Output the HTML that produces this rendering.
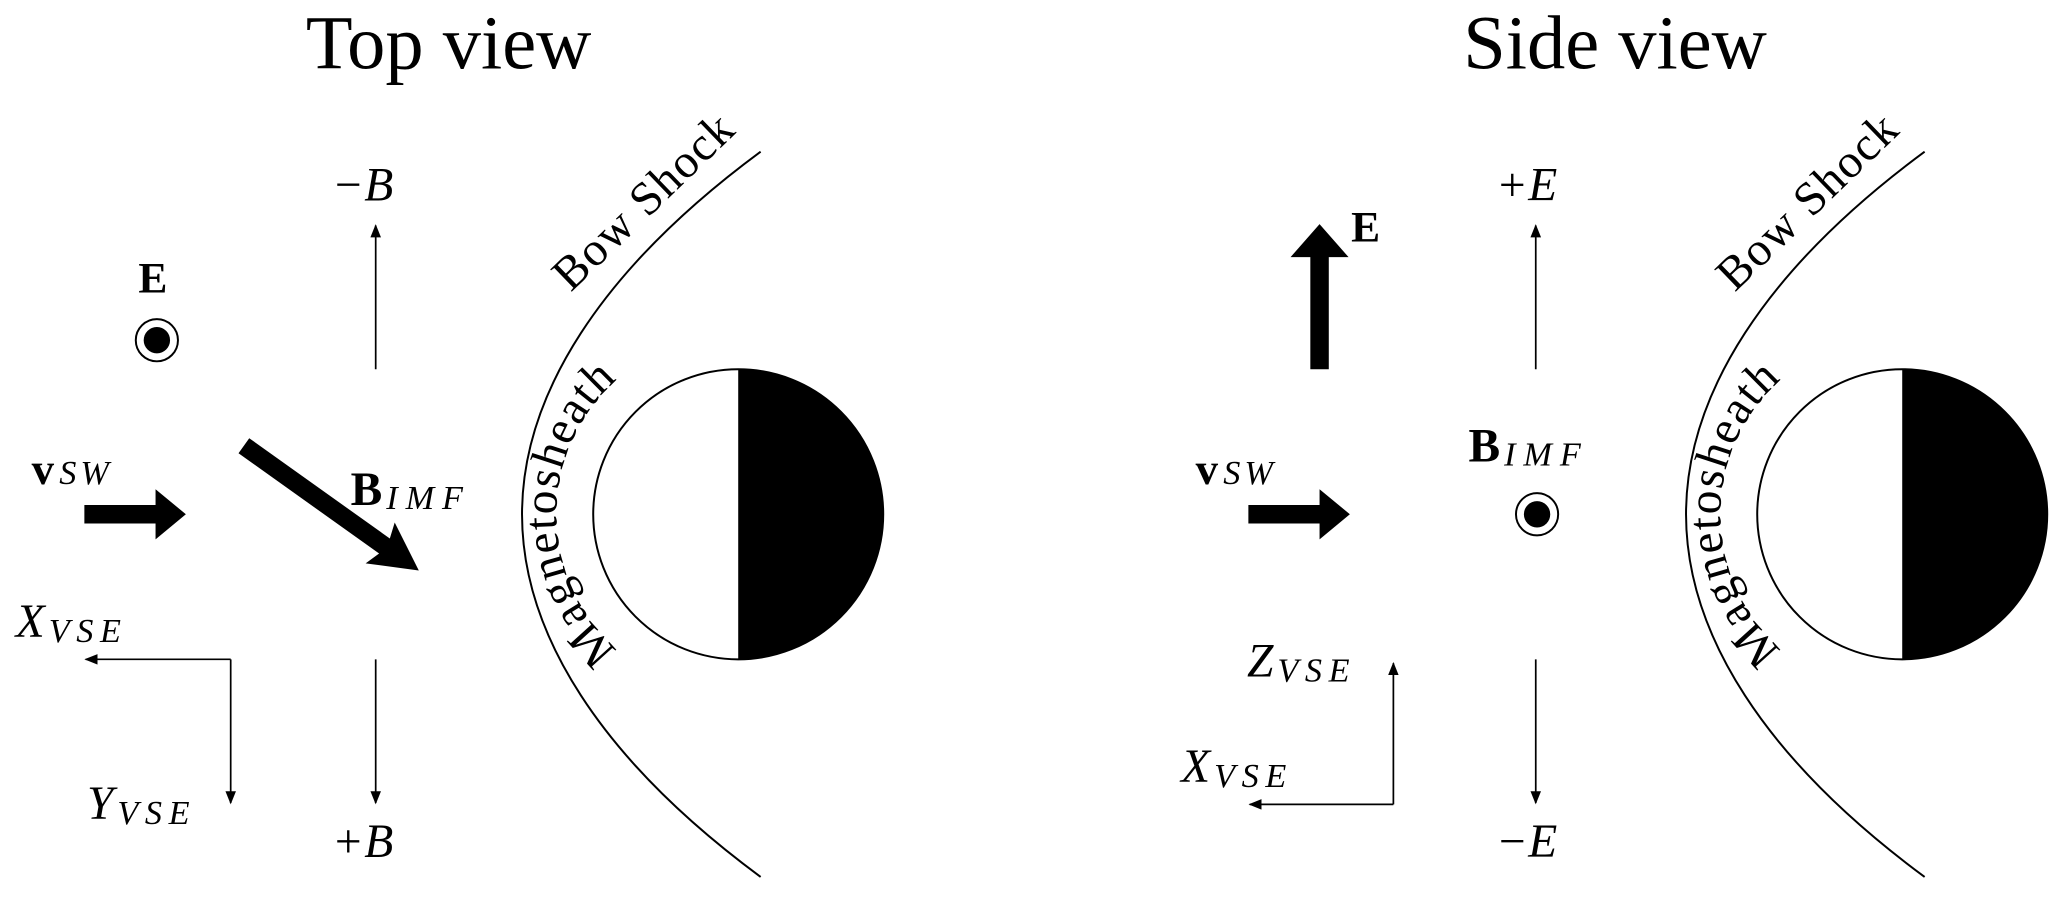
<!DOCTYPE html>
<html><head><meta charset="utf-8"><style>
html,body{margin:0;padding:0;background:#fff;}
svg{display:block;}
text{font-family:"Liberation Serif",serif;fill:#000;}
.b{font-weight:bold;}
.i{font-style:italic;}
</style></head><body>
<svg width="2067" height="898" viewBox="0 0 1568 681" preserveAspectRatio="none" xmlns="http://www.w3.org/2000/svg">
<defs>
<marker id="ah" markerWidth="10" markerHeight="8" refX="9" refY="4" orient="auto" markerUnits="userSpaceOnUse">
<path d="M0,0 L10,4 L0,8 Z" fill="#000"/>
</marker>
<path id="ms1" d="M494,510 A136,136 0 0,1 494,270" fill="none"/>
<path id="ms2" d="M1377,510 A136,136 0 0,1 1377,270" fill="none"/>
</defs>

<!-- ===== LEFT: Top view ===== -->
<text x="232" y="52" font-size="58">Top view</text>

<text x="254" y="152" font-size="36">−<tspan class="i" dx="2">B</tspan></text>
<line x1="285" y1="280" x2="285" y2="171" stroke="#000" stroke-width="1.3" marker-end="url(#ah)"/>
<line x1="285" y1="500" x2="285" y2="609" stroke="#000" stroke-width="1.3" marker-end="url(#ah)"/>
<text x="254" y="650" font-size="36">+<tspan class="i" dx="2">B</tspan></text>

<text x="105" y="222" font-size="33" class="b">E</text>
<circle cx="119" cy="258" r="16" fill="#fff" stroke="#000" stroke-width="1.5"/>
<circle cx="119" cy="258" r="10" fill="#000"/>

<text x="24" y="367" font-size="34"><tspan class="b">v</tspan><tspan class="i" font-size="26" dx="4" letter-spacing="3">SW</tspan></text>
<polygon points="64,383 118,383 118,371 141,390 118,409 118,397 64,397" fill="#000"/>

<g transform="translate(185,338) rotate(35.5)">
<polygon points="0,-7 131,-7 127,-19 163,0 127,19 131,7 0,7" fill="#000"/>
</g>
<text x="266" y="383" font-size="36"><tspan class="b">B</tspan><tspan class="i" font-size="26" dx="3" dy="3" letter-spacing="6">IMF</tspan></text>

<text x="12" y="483" font-size="36" class="i">X<tspan font-size="26" dx="3" dy="4" letter-spacing="5">VSE</tspan></text>
<line x1="175" y1="500" x2="65" y2="500" stroke="#000" stroke-width="1.3" marker-end="url(#ah)"/>
<line x1="175" y1="500" x2="175" y2="609" stroke="#000" stroke-width="1.3" marker-end="url(#ah)"/>
<text x="66" y="621" font-size="36" class="i">Y<tspan font-size="26" dx="3" dy="4" letter-spacing="5">VSE</tspan></text>

<path d="M577,115 C455,205 396,300 396,390 C396,480 455,575 577,665" fill="none" stroke="#000" stroke-width="1.5"/>
<text transform="translate(433,222) rotate(-44)" font-size="36" letter-spacing="1">Bow Shock</text>
<text font-size="36" letter-spacing="1"><textPath href="#ms1" startOffset="50%" text-anchor="middle">Magnetosheath</textPath></text>

<circle cx="560" cy="390" r="110" fill="#fff" stroke="#000" stroke-width="1.5"/>
<path d="M560,280 A110,110 0 0,1 560,500 Z" fill="#000"/>

<!-- ===== RIGHT: Side view ===== -->
<text x="1110" y="52" font-size="58">Side view</text>

<text x="1137" y="152" font-size="36">+<tspan class="i" dx="2">E</tspan></text>
<line x1="1165" y1="280" x2="1165" y2="171" stroke="#000" stroke-width="1.3" marker-end="url(#ah)"/>
<line x1="1165" y1="500" x2="1165" y2="609" stroke="#000" stroke-width="1.3" marker-end="url(#ah)"/>
<text x="1137" y="650" font-size="36">−<tspan class="i" dx="2">E</tspan></text>

<polygon points="994,280 994,195 979,195 1001,170 1023,195 1008,195 1008,280" fill="#000"/>
<text x="1025" y="183" font-size="33" class="b">E</text>

<text x="907" y="367" font-size="34"><tspan class="b">v</tspan><tspan class="i" font-size="26" dx="4" letter-spacing="3">SW</tspan></text>
<polygon points="947,383 1001,383 1001,371 1024,390 1001,409 1001,397 947,397" fill="#000"/>

<text x="1114" y="350" font-size="36"><tspan class="b">B</tspan><tspan class="i" font-size="26" dx="3" dy="3" letter-spacing="6">IMF</tspan></text>
<circle cx="1166" cy="390" r="16" fill="#fff" stroke="#000" stroke-width="1.5"/>
<circle cx="1166" cy="390" r="10" fill="#000"/>

<text x="946" y="513" font-size="36" class="i">Z<tspan font-size="26" dx="3" dy="4" letter-spacing="5">VSE</tspan></text>
<line x1="1057" y1="610" x2="1057" y2="503" stroke="#000" stroke-width="1.3" marker-end="url(#ah)"/>
<line x1="1057" y1="610" x2="948" y2="610" stroke="#000" stroke-width="1.3" marker-end="url(#ah)"/>
<text x="896" y="593" font-size="36" class="i">X<tspan font-size="26" dx="3" dy="4" letter-spacing="5">VSE</tspan></text>

<path d="M1460,115 C1338,205 1279,300 1279,390 C1279,480 1338,575 1460,665" fill="none" stroke="#000" stroke-width="1.5"/>
<text transform="translate(1316,222) rotate(-44)" font-size="36" letter-spacing="1">Bow Shock</text>
<text font-size="36" letter-spacing="1"><textPath href="#ms2" startOffset="50%" text-anchor="middle">Magnetosheath</textPath></text>

<circle cx="1443" cy="390" r="110" fill="#fff" stroke="#000" stroke-width="1.5"/>
<path d="M1443,280 A110,110 0 0,1 1443,500 Z" fill="#000"/>
</svg>
</body></html>
